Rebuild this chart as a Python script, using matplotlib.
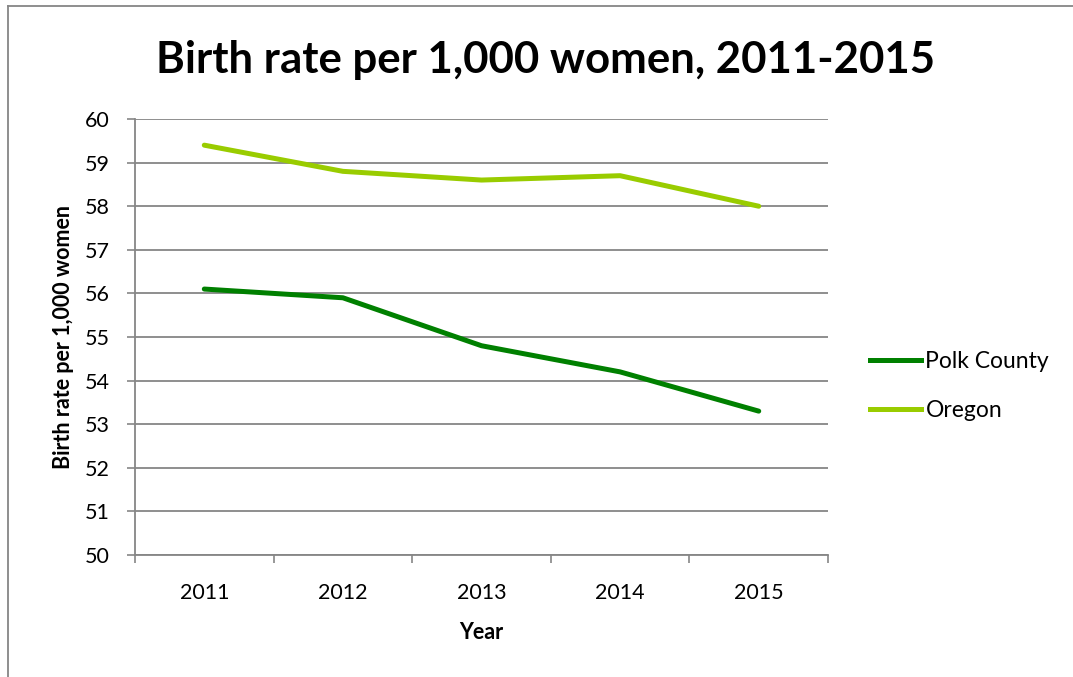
import matplotlib.pyplot as plt
from matplotlib.lines import Line2D

years = ["2011", "2012", "2013", "2014", "2015"]
polk = [56.1, 55.9, 54.8, 54.2, 53.3]
oregon = [59.4, 58.8, 58.6, 58.7, 58.0]
yticks = [50, 51, 52, 53, 54, 55, 56, 57, 58, 59, 60]

plt.rcParams['font.family'] = ['Lato', 'DejaVu Sans']

fig = plt.figure(figsize=(10.73, 6.77), dpi=100)
ax = fig.add_axes([0.1258, 0.1802, 0.6459, 0.644])

x = list(range(len(years)))
ax.plot(x, polk, color="#008000", lw=3.6, solid_capstyle="round", label="Polk County")
ax.plot(x, oregon, color="#99CC00", lw=3.6, solid_capstyle="round", label="Oregon")

ax.set_xlim(-0.5, len(years) - 0.5)
ax.set_ylim(50, 60)
ax.set_yticks(yticks)
ax.set_xticks(x)
ax.set_xticklabels(years)
ax.tick_params(axis='x', length=0, pad=20, labelsize=15.5)
ax.set_xticks([i - 0.5 for i in range(len(years) + 1)], minor=True)
ax.tick_params(axis='x', which='minor', length=6, color="#868686", width=1.2)
ax.tick_params(axis='y', length=6, color="#868686", width=1.2, labelsize=15.5, pad=12)

ax.grid(axis='y', color="#868686", lw=1.3)
ax.set_axisbelow(True)
for s in ['top', 'right']:
    ax.spines[s].set_visible(False)
for s in ['left', 'bottom']:
    ax.spines[s].set_color("#868686")
    ax.spines[s].set_linewidth(1.3)

ax.set_xlabel("Year", fontsize=15.5, fontweight='bold', labelpad=14)
ax.set_ylabel("Birth rate per 1,000 women", fontsize=15.5, fontweight='bold', labelpad=8)

fig.text(0.508, 0.912, "Birth rate per 1,000 women, 2011-2015", ha='center', va='center',
         fontsize=31.5, fontweight='bold')

handles = [Line2D([], [], color="#008000", lw=3.6), Line2D([], [], color="#99CC00", lw=3.6)]
fig.legend(handles, ["Polk County", "Oregon"], loc='center left', bbox_to_anchor=(0.792, 0.43),
           frameon=False, fontsize=16.5, handlelength=2.2, handletextpad=0.2, labelspacing=1.2)

# outer border (top and left only visible)
fig.add_artist(Line2D([0.0075, 1.0], [0.991, 0.991], color="#868686", lw=1.3, transform=fig.transFigure))
fig.add_artist(Line2D([0.0075, 0.0075], [0.0, 0.991], color="#868686", lw=1.3, transform=fig.transFigure))

fig.savefig("out.png", dpi=100)
